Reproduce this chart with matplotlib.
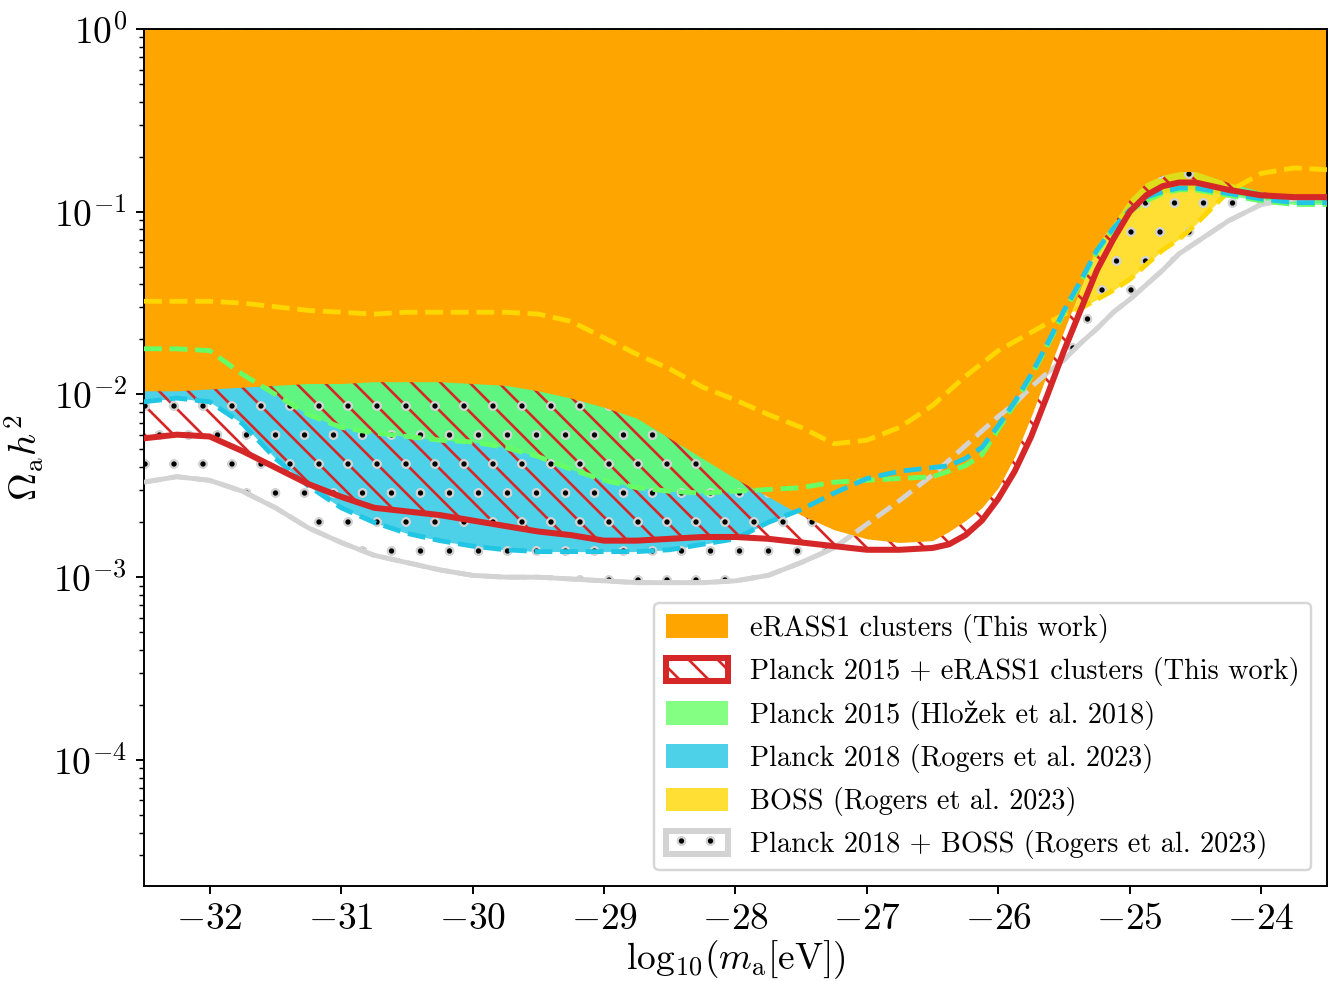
import numpy as np
import matplotlib
matplotlib.use("Agg")
import matplotlib.pyplot as plt
import matplotlib.hatch as mhatch
from matplotlib.patches import Patch

plt.rcParams['font.family'] = 'serif'
plt.rcParams['font.serif'] = ['cmr10']
plt.rcParams['mathtext.fontset'] = 'cm'
plt.rcParams['axes.formatter.use_mathtext'] = True
plt.rcParams['hatch.linewidth'] = 1.1

# smaller dots: grey ring ('o') with a black centre ('.')
mhatch.SmallCircles.size = 0.12
mhatch.SmallFilledCircles.size = 0.045

# log10(m_a / eV)
log_ma = [-32.5, -32.25, -32.0, -31.75, -31.5, -31.25, -31.0, -30.75, -30.5, -30.25,
          -30.0, -29.75, -29.5, -29.25, -29.0, -28.75, -28.5, -28.25, -28.0, -27.75,
          -27.5, -27.25, -27.0, -26.75, -26.5, -26.375, -26.25, -26.125, -26.0, -25.875,
          -25.75, -25.625, -25.5, -25.375, -25.25, -25.125, -25.0, -24.875, -24.75, -24.625,
          -24.5, -24.25, -24.0, -23.75, -23.5]

# upper limits, log10(Omega_a h^2)
erass1 = [-1.98, -1.98, -1.97, -1.96, -1.95, -1.94, -1.94, -1.93, -1.93, -1.93,
          -1.94, -1.95, -1.98, -2.02, -2.07, -2.13, -2.24, -2.35, -2.46, -2.56,
          -2.66, -2.74, -2.79, -2.81, -2.80, -2.75, -2.69, -2.62, -2.51, -2.34,
          -2.12, -1.88, -1.65, -1.42, -1.18, -1.06, -0.93, -0.84, -0.80, -0.78,
          -0.78, -0.84, -0.89, -0.91, -0.91]
planck15_erass1 = [-2.24, -2.22, -2.23, -2.31, -2.40, -2.49, -2.56, -2.62, -2.64, -2.66,
                   -2.69, -2.72, -2.75, -2.77, -2.80, -2.80, -2.79, -2.78, -2.78, -2.79,
                   -2.81, -2.83, -2.85, -2.85, -2.84, -2.82, -2.77, -2.69, -2.57, -2.42,
                   -2.23, -2.00, -1.76, -1.54, -1.32, -1.15, -1.00, -0.91, -0.86, -0.84,
                   -0.84, -0.88, -0.91, -0.92, -0.92]
planck15 = [-1.75, -1.75, -1.76, -1.89, -2.00, -2.11, -2.18, -2.21, -2.23, -2.25,
            -2.26, -2.29, -2.34, -2.41, -2.47, -2.51, -2.53, -2.54, -2.53, -2.52,
            -2.51, -2.48, -2.47, -2.46, -2.45, -2.42, -2.39, -2.33, -2.19, -2.05,
            -1.90, -1.73, -1.55, -1.39, -1.22, -1.10, -1.00, -0.94, -0.90, -0.88,
            -0.88, -0.91, -0.94, -0.96, -0.96]
planck18 = [-2.04, -2.02, -2.04, -2.16, -2.35, -2.50, -2.62, -2.70, -2.76, -2.80,
            -2.83, -2.85, -2.86, -2.86, -2.86, -2.86, -2.85, -2.82, -2.79, -2.70,
            -2.63, -2.54, -2.46, -2.42, -2.40, -2.39, -2.35, -2.29, -2.17, -2.04,
            -1.89, -1.72, -1.54, -1.38, -1.21, -1.09, -0.99, -0.92, -0.89, -0.87,
            -0.87, -0.90, -0.93, -0.95, -0.95]
boss = [-1.49, -1.49, -1.49, -1.50, -1.52, -1.54, -1.55, -1.56, -1.55, -1.55,
        -1.55, -1.55, -1.56, -1.60, -1.69, -1.78, -1.86, -1.96, -2.03, -2.11,
        -2.18, -2.27, -2.25, -2.18, -2.06, -1.98, -1.90, -1.83, -1.76, -1.71,
        -1.66, -1.61, -1.56, -1.53, -1.48, -1.43, -1.37, -1.29, -1.21, -1.15,
        -1.07, -0.89, -0.79, -0.76, -0.77]
planck18_boss = [-2.48, -2.45, -2.47, -2.53, -2.62, -2.73, -2.81, -2.88, -2.92, -2.96,
                 -2.99, -3.00, -3.00, -3.01, -3.02, -3.03, -3.03, -3.03, -3.02, -2.99,
                 -2.92, -2.84, -2.71, -2.58, -2.44, -2.36, -2.28, -2.20, -2.12, -2.05,
                 -1.96, -1.88, -1.81, -1.72, -1.64, -1.55, -1.48, -1.40, -1.32, -1.23,
                 -1.17, -1.05, -0.96, -0.93, -0.92]

labels = ['eRASS1 clusters (This work)',
          'Planck 2015 + eRASS1 clusters (This work)',
          'Planck 2015 (Hložek et al. 2018)',
          'Planck 2018 (Rogers et al. 2023)',
          'BOSS (Rogers et al. 2023)',
          'Planck 2018 + BOSS (Rogers et al. 2023)']

c_orange = 'orange'
c_red = 'tab:red'
c_green = '#66ff66'
c_cyan = '#20c6e3'
c_gold = 'gold'
c_grey = 'lightgrey'

fig = plt.figure(figsize=(1328 / 174, 981 / 174), dpi=174)
ax = fig.add_axes([0.1084, 0.0968, 0.8908, 0.8736])


def up(vals):
    return 10 ** np.array(vals)


# filled exclusion regions
ax.fill_between(log_ma, up(planck18), 1.0, color=c_cyan, alpha=0.8, lw=0, zorder=1.0)
ax.fill_between(log_ma, up(planck15), 1.0, color=c_green, alpha=0.8, lw=0, zorder=1.1)
ax.fill_between(log_ma, up(boss), 1.0, color=c_gold, alpha=0.8, lw=0, zorder=1.2)

# hatched regions
ax.fill_between(log_ma, up(planck15_erass1), 1.0, facecolor='none',
                edgecolor=c_red, hatch='\\\\', lw=0, zorder=1.3)
ax.fill_between(log_ma, up(planck18_boss), 1.0, facecolor='none',
                edgecolor=c_grey, hatch='o', lw=0, zorder=1.4)
ax.fill_between(log_ma, up(planck18_boss), 1.0, facecolor='none',
                edgecolor='k', hatch='.', lw=0, zorder=1.5)
ax.plot(log_ma, up(planck18_boss), color=c_grey, lw=2.0, zorder=1.6)

ax.fill_between(log_ma, up(erass1), 1.0, color=c_orange, lw=0, zorder=2)

# limit curves
ax.plot(log_ma, up(planck18_boss), color=c_grey, lw=2.0, ls='--', zorder=3.0)
ax.plot(log_ma, up(boss), color=c_gold, lw=2.0, ls='--', zorder=3.1)
ax.plot(log_ma, up(planck15), color=c_green, lw=2.0, ls='--', zorder=3.2)
ax.plot(log_ma, up(planck18), color=c_cyan, lw=2.0, ls='--', zorder=3.3)
ax.plot(log_ma, up(planck15_erass1), color=c_red, lw=2.5, zorder=4)

ax.set_yscale('log')
ax.set_xlim(-32.5, -23.5)
ax.set_ylim(2.04e-5, 1.0)
ax.set_xticks([-32, -31, -30, -29, -28, -27, -26, -25, -24])
ax.tick_params(labelsize=15.5)
ax.set_xlabel(r'$\mathrm{log}_{10}(m_{\rm a}[{\rm eV}])$', fontsize=15.5, labelpad=1)
ax.set_ylabel(r'$\Omega_{\rm a} h^2$', fontsize=16, labelpad=3)

# legend
h_grey = Patch(facecolor='white', edgecolor=c_grey, hatch='o', lw=2.5)
h_dot = Patch(facecolor='none', edgecolor='k', hatch='.', lw=0)
handles = [Patch(facecolor=c_orange),
           Patch(facecolor='white', edgecolor=c_red, hatch='\\\\', lw=2.5),
           Patch(facecolor=c_green, alpha=0.8),
           Patch(facecolor=c_cyan, alpha=0.8),
           Patch(facecolor=c_gold, alpha=0.8),
           (h_grey, h_dot)]
ax.legend(handles, labels, loc='lower right',
          prop={'family': ['cmr10', 'DejaVu Serif'], 'size': 11.7},
          handlelength=2.2, handleheight=0.9, labelspacing=0.5,
          borderaxespad=0.55)

fig.savefig('out.png', dpi=174)
